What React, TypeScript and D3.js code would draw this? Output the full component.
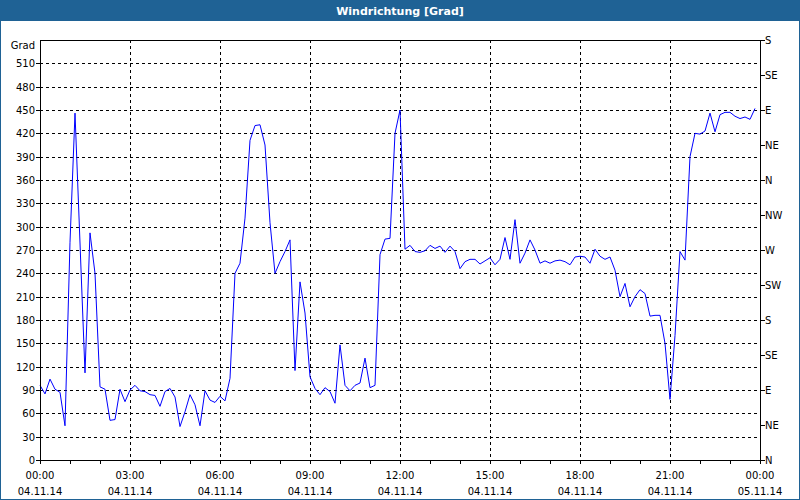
import React from "react";
import * as d3 from "d3";

const title = "Windrichtung [Grad]";
const yUnit = "Grad";
const startTime = new Date(2014, 10, 4, 0, 0);
const endTime = new Date(2014, 10, 5, 0, 0);
const sampleMinutes = 10;

// wind direction every 10 minutes (degrees, values above 360 as plotted)
const windValues = [
  96, 85, 104, 91, 87, 44, 280, 446, 279, 112,
  292, 240, 94, 91, 51, 52, 91, 75, 90, 96,
  89, 88, 84, 83, 69, 88, 92, 81, 43, 62,
  84, 71, 44, 89, 77, 74, 82, 76, 105, 240,
  253, 311, 411, 430, 431, 405, 305, 240, 255, 268,
  283, 115, 229, 189, 107, 92, 84, 93, 88, 73,
  148, 96, 89, 96, 99, 131, 93, 96, 264, 284,
  285, 420, 450, 271, 276, 268, 267, 269, 276, 272,
  275, 267, 275, 268, 246, 255, 258, 258, 252, 256,
  260, 251, 258, 286, 258, 309, 253, 266, 283, 270,
  253, 256, 253, 256, 257, 255, 251, 261, 262, 261,
  253, 271, 262, 258, 261, 244, 210, 227, 197, 210,
  219, 214, 185, 186, 186, 150, 78, 160, 268, 257,
  390, 420, 419, 423, 446, 422, 444, 447, 447, 442,
  439, 441, 438, 452,
];

const leftTicks = [0, 30, 60, 90, 120, 150, 180, 210, 240, 270, 300, 330, 360, 390, 420, 450, 480, 510];
const rightTicks = [0, 45, 90, 135, 180, 225, 270, 315, 360, 405, 450, 495, 540];
const rightLabels = ["N", "NE", "E", "SE", "S", "SW", "W", "NW", "N", "NE", "E", "SE", "S"];
const yMax = 540;

const W = 800;
const H = 500;
const M = { left: 40, top: 40, right: 760, bottom: 460 };
const FONT = "'DejaVu Sans', Verdana, sans-serif";
const BLUE = "#1f6295";

export default function App() {
  const x = d3.scaleTime().domain([startTime, endTime]).range([M.left, M.right]);
  const y = d3.scaleLinear().domain([0, yMax]).range([M.bottom, M.top]);

  const data = windValues.map((v, i) => ({
    t: new Date(startTime.getTime() + i * sampleMinutes * 60000),
    v,
  }));
  const line = d3
    .line<{ t: Date; v: number }>()
    .x((d) => x(d.t))
    .y((d) => y(d.v));

  const hourTicks = d3.timeHour.every(1)!.range(startTime, new Date(endTime.getTime() + 1));
  const labelTicks = d3.timeHour.every(3)!.range(startTime, new Date(endTime.getTime() + 1));
  const fmtTime = d3.timeFormat("%H:%M");
  const fmtDate = d3.timeFormat("%d.%m.%y");

  const px = (v: number) => Math.round(v) + 0.5;

  return (
    <svg
      width={W}
      height={H}
      style={{ position: "absolute", left: 0, top: 0, background: "#fff" }}
      fontFamily={FONT}
    >
      <rect x={0} y={0} width={W} height={H} fill="#fff" />
      {/* outer border & title bar */}
      <rect x={0.5} y={0.5} width={W - 1} height={H - 1} fill="none" stroke={BLUE} strokeWidth={1} />
      <rect x={0} y={0} width={W} height={21} fill={BLUE} />
      <text x={W / 2} y={15} textAnchor="middle" fill="#fff" fontSize={11} fontWeight="bold">
        {title}
      </text>

      {/* horizontal grid */}
      <g shapeRendering="crispEdges">
        {leftTicks
          .filter((t) => t > 0)
          .map((t) => (
            <line
              key={"hg" + t}
              x1={M.left}
              x2={M.right}
              y1={px(y(t))}
              y2={px(y(t))}
              stroke="#000"
              strokeDasharray="3,3"
            />
          ))}
        {labelTicks
          .filter((t) => t > startTime && t < endTime)
          .map((t) => (
            <line
              key={"vg" + t.getTime()}
              x1={px(x(t))}
              x2={px(x(t))}
              y1={M.top}
              y2={M.bottom}
              stroke="#000"
              strokeDasharray="3,3"
            />
          ))}
      </g>

      {/* data */}
      <path d={line(data) || ""} fill="none" stroke="#0000ff" strokeWidth={1} />

      {/* frame */}
      <g shapeRendering="crispEdges" stroke="#000">
        <line x1={px(M.left)} x2={px(M.left)} y1={M.top} y2={M.bottom + 1} />
        <line x1={px(M.right)} x2={px(M.right)} y1={M.top} y2={M.bottom + 1} />
        <line x1={M.left} x2={M.right + 1} y1={px(M.top)} y2={px(M.top)} />
        <line x1={M.left} x2={M.right + 1} y1={px(M.bottom)} y2={px(M.bottom)} />
      </g>

      {/* left axis */}
      <g fontSize={10} fill="#000">
        {leftTicks.map((t) => (
          <g key={"l" + t}>
            <line
              x1={M.left - 4}
              x2={M.left}
              y1={px(y(t))}
              y2={px(y(t))}
              stroke="#000"
              shapeRendering="crispEdges"
            />
            <text x={M.left - 5} y={y(t) + 4} textAnchor="end">
              {t}
            </text>
          </g>
        ))}
        <text x={M.left - 5} y={49} textAnchor="end">
          {yUnit}
        </text>
      </g>

      {/* right axis */}
      <g fontSize={10} fill="#000">
        {rightTicks.map((t, i) => (
          <g key={"r" + t}>
            <line
              x1={M.right}
              x2={M.right + 5}
              y1={px(y(t))}
              y2={px(y(t))}
              stroke="#000"
              shapeRendering="crispEdges"
            />
            <text x={M.right + 5} y={y(t) + 4} textAnchor="start">
              {rightLabels[i]}
            </text>
          </g>
        ))}
      </g>

      {/* bottom axis */}
      <g fontSize={10} fill="#000">
        {hourTicks.map((t) => (
          <line
            key={"bt" + t.getTime()}
            x1={px(x(t))}
            x2={px(x(t))}
            y1={M.bottom}
            y2={M.bottom + 4}
            stroke="#000"
            shapeRendering="crispEdges"
          />
        ))}
        {labelTicks.map((t) => (
          <g key={"bl" + t.getTime()}>
            <text x={x(t)} y={479} textAnchor="middle">
              {fmtTime(t)}
            </text>
            <text x={x(t)} y={495} textAnchor="middle">
              {fmtDate(t)}
            </text>
          </g>
        ))}
      </g>
    </svg>
  );
}
